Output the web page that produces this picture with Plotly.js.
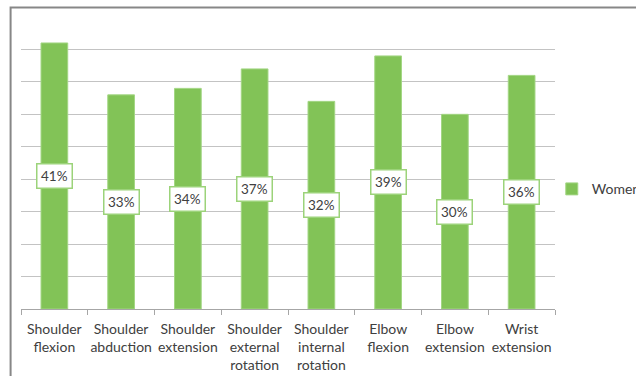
<!DOCTYPE html>
<html>
<head>
<meta charset="utf-8">
<script src="https://cdn.plot.ly/plotly-3.0.1.min.js"></script>
<style>html,body{margin:0;padding:0;background:#fff;}#chart{width:636px;height:376px;}</style>
</head>
<body>
<div id="chart"></div>
<script>
var categories = ["Shoulder<br>flexion","Shoulder<br>abduction","Shoulder<br>extension","Shoulder<br>external<br>rotation","Shoulder<br>internal<br>rotation","Elbow<br>flexion","Elbow<br>extension","Wrist<br>extension"];
var women = [41, 33, 34, 37, 32, 39, 30, 36];
var seriesName = "Women";

var green = "#82c357";
var font = "Lato, 'Open Sans', sans-serif";

var annotations = categories.map(function(c, i){
  return {
    x: c, y: women[i] / 2, xref: "x", yref: "y",
    text: women[i] + "%", showarrow: false,
    font: {family: font, size: 13.5, color: "#404040"},
    bgcolor: "#ffffff", bordercolor: "#9cd37a", borderwidth: 1.5, borderpad: 3.5
  };
});

var trace = {
  type: "bar", x: categories, y: women, name: seriesName,
  marker: {color: green, line: {color: "#a3d684", width: 1}},
  hoverinfo: "none"
};

var layout = {
  width: 636, height: 376,
  margin: {l: 21, r: 81, t: 17, b: 67, autoexpand: false},
  paper_bgcolor: "#ffffff", plot_bgcolor: "#ffffff",
  bargap: 0.6,
  font: {family: font, size: 13.5, color: "#404040"},
  xaxis: {
    type: "category", showgrid: false, showline: true, linecolor: "#a6a6a6", linewidth: 1,
    ticks: "outside", tickson: "boundaries", ticklen: 5, tickcolor: "#a6a6a6", tickangle: 0,
    ticklabelstandoff: 7,
    tickfont: {family: font, size: 14, color: "#404040"}, automargin: false
  },
  yaxis: {
    range: [0, 45], dtick: 5, showticklabels: false, showgrid: true,
    gridcolor: "#c3c3c3", gridwidth: 1, zeroline: false, showline: false, ticks: ""
  },
  showlegend: true,
  legend: {x: 0.994, y: 0.41, xanchor: "left", yanchor: "middle",
    font: {family: font, size: 14, color: "#404040"}, itemwidth: 30, bgcolor: "rgba(0,0,0,0)"},
  annotations: annotations,
  shapes: [{
    type: "rect", xref: "paper", yref: "paper",
    x0: -0.0195, x1: 2, y0: -1, y1: 1.0325,
    line: {color: "#878787", width: 2}, fillcolor: "rgba(0,0,0,0)", layer: "above"
  }]
};

Plotly.newPlot("chart", [trace], layout, {displayModeBar: false, staticPlot: true});
</script>
</body>
</html>
